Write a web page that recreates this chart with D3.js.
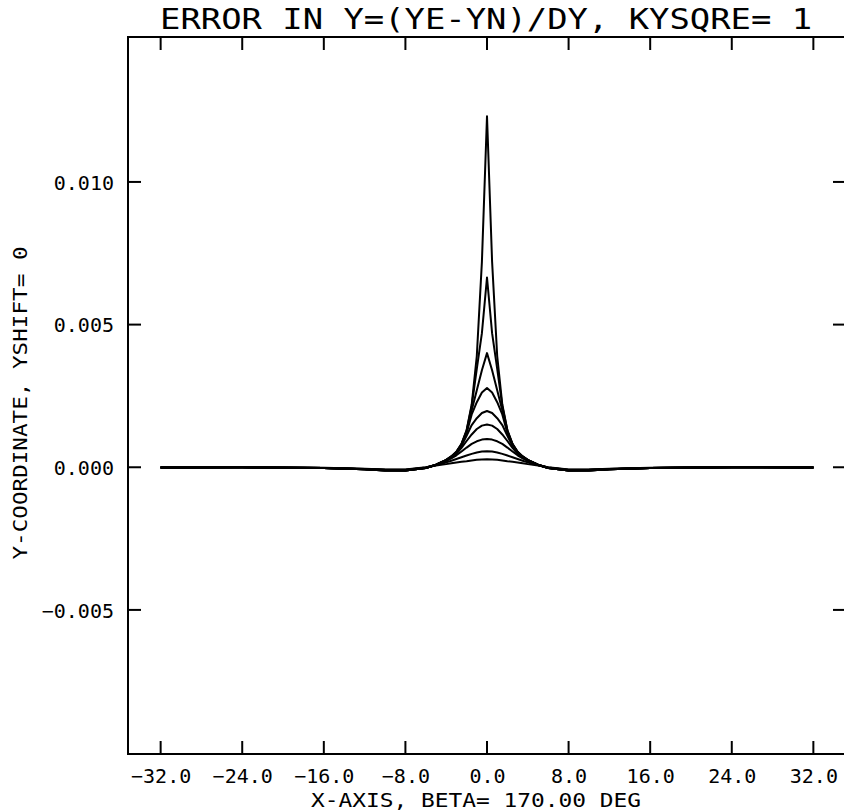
<!DOCTYPE html>
<html>
<head>
<meta charset="utf-8">
<script src="https://cdn.jsdelivr.net/npm/d3@7/dist/d3.min.js"></script>
<style>
  html, body { margin: 0; padding: 0; background: #fff; }
  svg { display: block; }
  text { font-family: "DejaVu Sans Mono", "Liberation Mono", monospace; fill: #000; }
</style>
</head>
<body>
<script>
// ---- data ----
const titleText = "ERROR IN Y=(YE-YN)/DY, KYSQRE= 1";
const xLabel = "X-AXIS, BETA= 170.00 DEG";
const yLabel = "Y-COORDINATE, YSHIFT= 0";
const xTicks = [-32, -24, -16, -8, 0, 8, 16, 24, 32];
const yTicks = [-0.005, 0.000, 0.005, 0.010];

const xs = [-32, -24, -16, -12, -10, -8, -6, -5, -4, -3.5, -3, -2.5, -2, -1.5, -1, -0.5, 0,
            0.5, 1, 1.5, 2, 2.5, 3, 3.5, 4, 5, 6, 8, 10, 12, 16, 24, 32];

const curve1 = [-0.00001, 0.00000, -0.00003, -0.00007, -0.00011, -0.00011, -0.00003, 0.00009, 0.00026, 0.00038, 0.00054, 0.00082, 0.00130, 0.00220, 0.00390, 0.00720, 0.01230,
                0.00720, 0.00390, 0.00220, 0.00130, 0.00082, 0.00054, 0.00038, 0.00026, 0.00009, -0.00003, -0.00011, -0.00011, -0.00007, -0.00003, 0.00000, -0.00001];
const curve2 = [-0.00001, 0.00000, -0.00003, -0.00007, -0.00011, -0.00011, -0.00003, 0.00009, 0.00026, 0.00038, 0.00054, 0.00081, 0.00128, 0.00215, 0.00345, 0.00470, 0.00665,
                0.00470, 0.00345, 0.00215, 0.00128, 0.00081, 0.00054, 0.00038, 0.00026, 0.00009, -0.00003, -0.00011, -0.00011, -0.00007, -0.00003, 0.00000, -0.00001];
const curve3 = [-0.00001, 0.00000, -0.00003, -0.00007, -0.00011, -0.00011, -0.00003, 0.00009, 0.00025, 0.00037, 0.00053, 0.00080, 0.00125, 0.00200, 0.00270, 0.00340, 0.00400,
                0.00340, 0.00270, 0.00200, 0.00125, 0.00080, 0.00053, 0.00037, 0.00025, 0.00009, -0.00003, -0.00011, -0.00011, -0.00007, -0.00003, 0.00000, -0.00001];
const curve4 = [-0.00001, 0.00000, -0.00003, -0.00007, -0.00011, -0.00011, -0.00003, 0.00008, 0.00025, 0.00036, 0.00052, 0.00078, 0.00120, 0.00185, 0.00228, 0.00262, 0.00278,
                0.00262, 0.00228, 0.00185, 0.00120, 0.00078, 0.00052, 0.00036, 0.00025, 0.00008, -0.00003, -0.00011, -0.00011, -0.00007, -0.00003, 0.00000, -0.00001];
const curve5 = [-0.00001, 0.00000, -0.00003, -0.00007, -0.00010, -0.00011, -0.00003, 0.00008, 0.00024, 0.00035, 0.00050, 0.00075, 0.00110, 0.00148, 0.00172, 0.00190, 0.00197,
                0.00190, 0.00172, 0.00148, 0.00110, 0.00075, 0.00050, 0.00035, 0.00024, 0.00008, -0.00003, -0.00011, -0.00010, -0.00007, -0.00003, 0.00000, -0.00001];
const curve6 = [-0.00001, 0.00000, -0.00003, -0.00007, -0.00010, -0.00010, -0.00002, 0.00009, 0.00024, 0.00034, 0.00047, 0.00068, 0.00092, 0.00115, 0.00134, 0.00146, 0.00150,
                0.00146, 0.00134, 0.00115, 0.00092, 0.00068, 0.00047, 0.00034, 0.00024, 0.00009, -0.00002, -0.00010, -0.00010, -0.00007, -0.00003, 0.00000, -0.00001];
const curve7 = [-0.00001, 0.00000, -0.00003, -0.00006, -0.00009, -0.00010, -0.00002, 0.00009, 0.00022, 0.00031, 0.00042, 0.00055, 0.00069, 0.00082, 0.00091, 0.00097, 0.00099,
                0.00097, 0.00091, 0.00082, 0.00069, 0.00055, 0.00042, 0.00031, 0.00022, 0.00009, -0.00002, -0.00010, -0.00009, -0.00006, -0.00003, 0.00000, -0.00001];
const curve8 = [-0.00001, 0.00000, -0.00003, -0.00006, -0.00009, -0.00009, -0.00001, 0.00008, 0.00017, 0.00023, 0.00029, 0.00035, 0.00041, 0.00047, 0.00052, 0.00055, 0.00056,
                0.00055, 0.00052, 0.00047, 0.00041, 0.00035, 0.00029, 0.00023, 0.00017, 0.00008, -0.00001, -0.00009, -0.00009, -0.00006, -0.00003, 0.00000, -0.00001];
const curve9 = [-0.00001, 0.00000, -0.00002, -0.00005, -0.00008, -0.00008, 0.00000, 0.00006, 0.00011, 0.00014, 0.00017, 0.00019, 0.00021, 0.00024, 0.00026, 0.00027, 0.00028,
                0.00027, 0.00026, 0.00024, 0.00021, 0.00019, 0.00017, 0.00014, 0.00011, 0.00006, 0.00000, -0.00008, -0.00008, -0.00005, -0.00002, 0.00000, -0.00001];

const series = [curve1, curve2, curve3, curve4, curve5, curve6, curve7, curve8, curve9];

// ---- drawing ----
const W = 844, H = 810;
const svg = d3.select("body").append("svg").attr("width", W).attr("height", H);

const pL = 128, pR = 846, pT = 37, pB = 754;
const x = d3.scaleLinear().domain([-35.2, 35.2]).range([pL, pR]);
const y = d3.scaleLinear().domain([-0.01005, 0.01508]).range([pB, pT]);

// frame
svg.append("rect")
  .attr("x", pL).attr("y", pT)
  .attr("width", pR - pL).attr("height", pB - pT)
  .attr("fill", "none").attr("stroke", "#000").attr("stroke-width", 2);

const tickLen = 13;
// bottom axis labels
const xAxisB = d3.axisBottom(x).tickValues(xTicks).tickSize(0).tickFormat(d => d3.format(".1f")(d).replace("-", "\u2212"));
const gB = svg.append("g").attr("transform", `translate(0,${pB})`).call(xAxisB);
gB.select(".domain").remove();
gB.selectAll("text").attr("y", 29).attr("dy", 0).style("font-size", "20px").attr("text-anchor", "middle");
// bottom ticks (inward)
svg.append("g").selectAll("line").data(xTicks).join("line")
  .attr("x1", d => x(d)).attr("x2", d => x(d))
  .attr("y1", pB).attr("y2", pB - tickLen)
  .attr("stroke", "#000").attr("stroke-width", 2);
// top ticks (inward)
svg.append("g").selectAll("line").data(xTicks).join("line")
  .attr("x1", d => x(d)).attr("x2", d => x(d))
  .attr("y1", pT).attr("y2", pT + tickLen)
  .attr("stroke", "#000").attr("stroke-width", 2);

// left axis labels
const yAxisL = d3.axisLeft(y).tickValues(yTicks).tickSize(0).tickFormat(d => d3.format(".3f")(d).replace("-", "\u2212"));
const gL = svg.append("g").attr("transform", `translate(${pL},0)`).call(yAxisL);
gL.select(".domain").remove();
gL.selectAll("text").attr("x", -14).attr("dy", "0.36em").style("font-size", "20px");
svg.append("g").selectAll("line").data(yTicks).join("line")
  .attr("x1", pL).attr("x2", pL + tickLen)
  .attr("y1", d => y(d)).attr("y2", d => y(d))
  .attr("stroke", "#000").attr("stroke-width", 2);
svg.append("g").selectAll("line").data(yTicks).join("line")
  .attr("x1", pR).attr("x2", pR - tickLen)
  .attr("y1", d => y(d)).attr("y2", d => y(d))
  .attr("stroke", "#000").attr("stroke-width", 2);

// curves
const line = d3.line().x((d, i) => x(xs[i])).y(d => y(d));
svg.append("g").selectAll("path").data(series).join("path")
  .attr("d", d => line(d))
  .attr("fill", "none").attr("stroke", "#000").attr("stroke-width", 2)
  .attr("stroke-linejoin", "round");

// title
svg.append("text").attr("x", 486).attr("y", 29).attr("text-anchor", "middle")
  .attr("textLength", 652).attr("lengthAdjust", "spacingAndGlyphs")
  .style("font-size", "28px").text(titleText);

// x label
svg.append("text").attr("x", 476).attr("y", 807).attr("text-anchor", "middle")
  .attr("textLength", 330).attr("lengthAdjust", "spacingAndGlyphs")
  .style("font-size", "19px").text(xLabel);

// y label
svg.append("text").attr("transform", "translate(27,403) rotate(-90)").attr("text-anchor", "middle")
  .attr("textLength", 313).attr("lengthAdjust", "spacingAndGlyphs")
  .style("font-size", "19px").text(yLabel);
</script>
</body>
</html>
